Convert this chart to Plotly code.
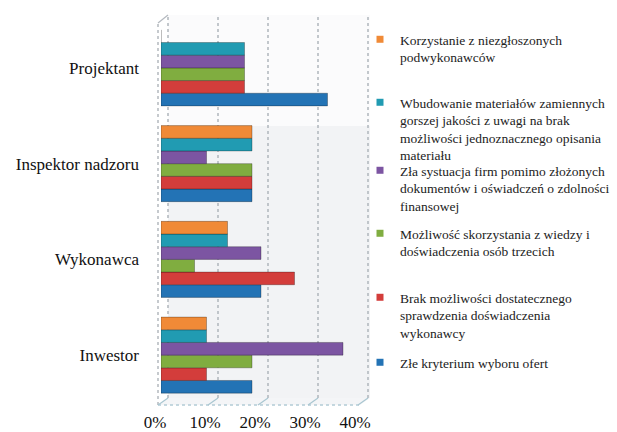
import plotly.graph_objects as go

categories = ["Inwestor", "Wykonawca", "Inspektor nadzoru", "Projektant"]

# series listed bottom-to-top within each group
series_names = [
    "Złe kryterium wyboru ofert",
    "Brak możliwości dostatecznego<br>sprawdzenia doświadczenia<br>wykonawcy",
    "Możliwość skorzystania z wiedzy i<br>doświadczenia osób trzecich",
    "Zła systuacja firm pomimo złożonych<br>dokumentów i oświadczeń o zdolności<br>finansowej",
    "Wbudowanie materiałów zamiennych<br>gorszej jakości z uwagi na brak<br>możliwości jednoznacznego opisania<br>materiału",
    "Korzystanie z niezgłoszonych<br>podwykonawców",
]
series_colors = ["#2373B5", "#D33D3B", "#80AD40", "#7C55A2", "#219BB2", "#F08A37"]

vals_kryterium = [0.182, 0.200, 0.182, 0.333]
vals_brak = [0.091, 0.267, 0.182, 0.167]
vals_mozliwosc = [0.182, 0.067, 0.182, 0.167]
vals_sytuacja = [0.364, 0.200, 0.091, 0.167]
vals_wbudowanie = [0.091, 0.133, 0.182, 0.167]
vals_korzystanie = [0.091, 0.133, 0.182, 0.0]
series_values = [vals_kryterium, vals_brak, vals_mozliwosc, vals_sytuacja,
                 vals_wbudowanie, vals_korzystanie]

tick_vals = [0, 0.1, 0.2, 0.3, 0.4]
tick_text = ["0%", "10%", "20%", "30%", "40%"]

# legend rows, top to bottom (series indices) and their first-line y in px
legend_order = [5, 4, 3, 2, 1, 0]
legend_y_px = [40, 103, 171, 234, 298, 363]

SERIF = "Liberation Serif"

W, H = 617, 432
L, R, T, B = 161, 256, 20, 29
PW, PH = W - L - R, H - T - B


def px_x(p):
    return (p - L) / PW


def px_y(p):
    return (H - B - p) / PH


fig = go.Figure()
for name, col, vals in zip(series_names, series_colors, series_values):
    fig.add_trace(go.Bar(
        y=categories, x=vals, orientation="h", name=name,
        marker=dict(color=col, line=dict(color="rgba(0,0,0,0.35)", width=0.8)),
        showlegend=False,
    ))

for k, si in enumerate(legend_order):
    lname = "legend" if k == 0 else f"legend{k+1}"
    fig.add_trace(go.Scatter(
        x=[None], y=[None], mode="markers", name=series_names[si],
        marker=dict(symbol="square", size=7, color=series_colors[si]),
        legend=lname, showlegend=True,
    ))
    fig.update_layout(**{lname: dict(
        x=px_x(360), y=px_y(legend_y_px[k] - 16), xanchor="left", yanchor="top",
        valign="top", bgcolor="rgba(0,0,0,0)", borderwidth=0,
        font=dict(family=SERIF, size=13.5, color="#222222"),
        itemwidth=30, tracegroupgap=0,
    )})

# 3D-like box: back wall, floor, left wall
back_x0 = px_x(168); back_x1 = px_x(370)
back_top = px_y(15); back_bot = px_y(398)
shapes = [
    dict(type="rect", xref="paper", yref="paper", x0=back_x0, x1=back_x1,
         y0=back_bot, y1=back_top, fillcolor="#f2f3f5", line=dict(width=0), layer="below"),
    dict(type="rect", xref="paper", yref="paper", x0=back_x0, x1=back_x1,
         y0=px_y(126), y1=back_top, fillcolor="#fbfbfc", line=dict(width=0), layer="below"),
    dict(type="path", xref="paper", yref="paper", layer="below",
         path=f"M{px_x(158)},{px_y(405)} L{px_x(168)},{back_bot} L{back_x1},{back_bot} L{px_x(360)},{px_y(405)} Z",
         fillcolor="#f4f5f7", line=dict(width=0)),
    dict(type="line", xref="paper", yref="paper", x0=px_x(158), x1=px_x(158),
         y0=px_y(405), y1=px_y(23), line=dict(color="#b4b9bf", width=1.5, dash="dot"), layer="below"),
    dict(type="line", xref="paper", yref="paper", x0=px_x(158), x1=px_x(168),
         y0=px_y(23), y1=px_y(15), line=dict(color="#b4b9bf", width=1.2), layer="below"),
    dict(type="line", xref="paper", yref="paper", x0=px_x(158), x1=px_x(360),
         y0=px_y(405), y1=px_y(405), line=dict(color="#b3cbd6", width=1.5, dash="dot"), layer="below"),
]
for v in tick_vals:
    gx = v / 0.4 + 7 / PW
    shapes.append(dict(type="line", xref="paper", yref="paper", x0=gx, x1=gx,
                       y0=back_bot, y1=back_top, layer="below",
                       line=dict(color="#b0b6bc", width=1.5, dash="dot")))
    shapes.append(dict(type="line", xref="paper", yref="paper", x0=gx, x1=gx - 10 / PW,
                       y0=back_bot, y1=px_y(405), layer="below",
                       line=dict(color="#a9c6d1", width=1.2)))

fig.update_layout(
    width=W, height=H,
    margin=dict(l=L, r=R, t=T, b=B, pad=0, autoexpand=False),
    paper_bgcolor="white", plot_bgcolor="rgba(0,0,0,0)",
    barmode="group", bargap=0.206, bargroupgap=0,
    shapes=shapes,
    xaxis=dict(range=[0, 0.4], tickvals=tick_vals, ticktext=tick_text,
               showgrid=False, zeroline=False, showline=False, ticks="",
               automargin=False, ticklabelshift=-6, ticklabelstandoff=7,
               tickfont=dict(family=SERIF, size=17, color="#111111")),
    yaxis=dict(showgrid=False, zeroline=False, showline=False, ticks="",
               automargin=False, ticklabelstandoff=21,
               categoryorder="array", categoryarray=categories,
               tickfont=dict(family=SERIF, size=17, color="#111111")),
)

fig.write_html("out.html")
